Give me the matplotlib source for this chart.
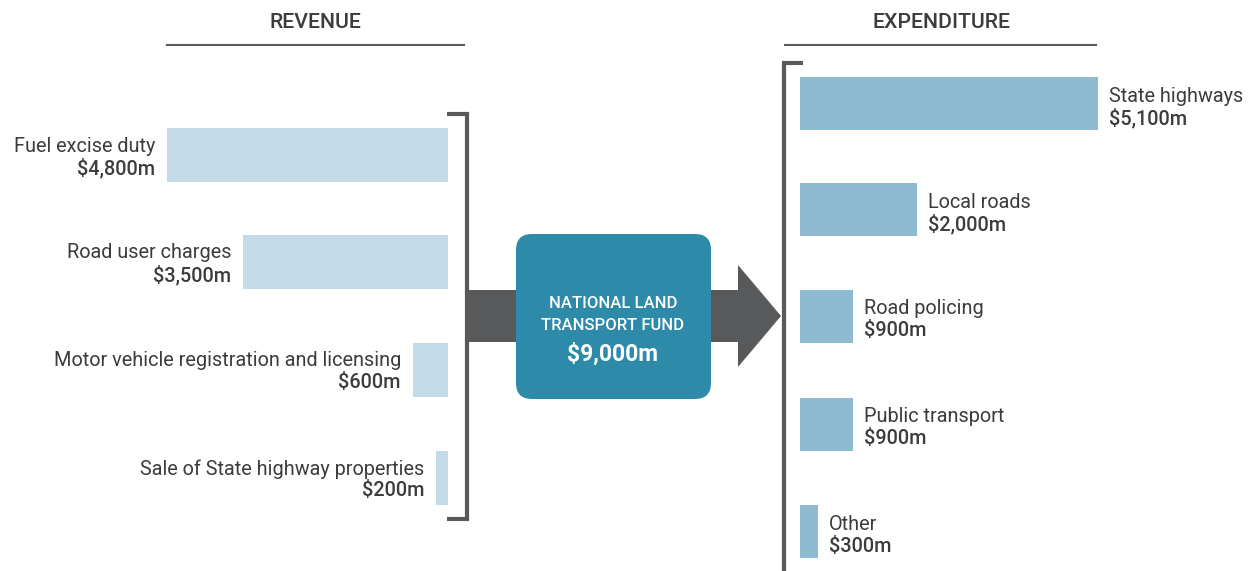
import matplotlib.pyplot as plt
from matplotlib.patches import FancyBboxPatch, Polygon
import numpy as np

plt.rcParams['font.family'] = ['Roboto', 'DejaVu Sans']

# revenue side
rev_labels = ['Fuel excise duty', 'Road user charges',
              'Motor vehicle registration and licensing',
              'Sale of State highway properties']
rev_values = [4800, 3500, 600, 200]

# expenditure side
exp_labels = ['State highways', 'Local roads', 'Road policing',
              'Public transport', 'Other']
exp_values = [5100, 2000, 900, 900, 300]

fund_total = 9000

W, H = 1254, 571
px_per_m = 0.0585  # bar length scale, pixels per $m
txt = '#3c3c3c'
dark = '#58595b'
fs = 14.3

fig = plt.figure(figsize=(W / 100, H / 100), dpi=100)

# background layer in pixel coords for the decorations
ax0 = fig.add_axes([0, 0, 1, 1])
ax0.set_xlim(0, W)
ax0.set_ylim(H, 0)
ax0.axis('off')

# headings
ax0.text(315, 22, 'REVENUE', ha='center', va='center', fontsize=15.3,
         color=txt, fontweight='medium')
ax0.plot([167, 464], [45, 45], color=dark, lw=1.5)
ax0.text(941, 22, 'EXPENDITURE', ha='center', va='center', fontsize=15.3,
         color=txt, fontweight='medium')
ax0.plot([785, 1096], [45, 45], color=dark, lw=1.5)

# brackets
ax0.plot([447, 467, 467, 447], [114, 114, 519, 519], color=dark, lw=3,
         solid_joinstyle='miter', solid_capstyle='butt')
ax0.plot([803, 784, 784], [63, 63, 580], color=dark, lw=3,
         solid_joinstyle='miter', solid_capstyle='butt')

# arrow through the fund box
arrow = Polygon([(468, 290), (738, 290), (738, 265), (781, 316),
                 (738, 367), (738, 342), (468, 342)],
                closed=True, facecolor=dark, edgecolor='none', zorder=1)
ax0.add_patch(arrow)

box = FancyBboxPatch((516, 234), 195, 165,
                     boxstyle='round,pad=0,rounding_size=16',
                     facecolor='#2e8aa9', edgecolor='none', zorder=2)
ax0.add_patch(box)
ax0.text(613, 303, 'NATIONAL LAND', ha='center', va='center', color='white',
         fontsize=12, fontweight='medium', zorder=3)
ax0.text(613, 326, 'TRANSPORT FUND', ha='center', va='center', color='white',
         fontsize=12, fontweight='medium', zorder=3)
ax0.text(613, 354, '${:,}m'.format(fund_total), ha='center', va='center',
         color='white', fontsize=16.5, fontweight='bold', zorder=3)

# revenue bars (growing leftwards from the bracket)
rev_y = [155, 262, 370, 478]
axL = fig.add_axes([0, 0, 448 / W, 1])
axL.set_xlim(448 / px_per_m, 0)
axL.set_ylim(H, 0)
axL.axis('off')
axL.patch.set_alpha(0)
axL.barh(rev_y, rev_values, height=54, color='#c3dae8')
for y, lab, v in zip(rev_y, rev_labels, rev_values):
    axL.annotate(lab, (v, y), xytext=(-12, 9), textcoords='offset pixels',
                 ha='right', va='center', fontsize=fs, color=txt)
    axL.annotate('${:,}m'.format(v), (v, y), xytext=(-12, -13),
                 textcoords='offset pixels', ha='right', va='center',
                 fontsize=fs, color=txt, fontweight='medium')

# expenditure bars
exp_y = [103, 209, 316, 424, 531]
axR = fig.add_axes([800 / W, 0, (W - 800) / W, 1])
axR.set_xlim(0, (W - 800) / px_per_m)
axR.set_ylim(H, 0)
axR.axis('off')
axR.patch.set_alpha(0)
axR.barh(exp_y, exp_values, height=53, color='#8fbbd1')
for y, lab, v in zip(exp_y, exp_labels, exp_values):
    axR.annotate(lab, (v, y), xytext=(11, 7), textcoords='offset pixels',
                 ha='left', va='center', fontsize=fs, color=txt)
    axR.annotate('${:,}m'.format(v), (v, y), xytext=(11, -15),
                 textcoords='offset pixels', ha='left', va='center',
                 fontsize=fs, color=txt, fontweight='medium')

fig.savefig('out.png', dpi=100)
